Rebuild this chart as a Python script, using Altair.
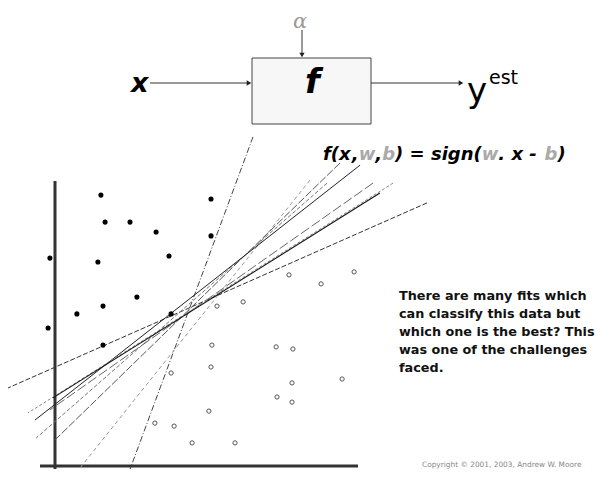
import altair as alt
import pandas as pd

# ---- data (feature space units; origin at the axes corner) ----
filled_u = [1.53, 5.2, 1.67, 2.5, 3.37, 5.2, -0.17, 1.43, 3.8, 2.73, 1.6, 0.73, 3.87, -0.23, 1.6]
filled_v = [9.03, 8.9, 8.13, 8.13, 7.8, 7.67, 6.93, 6.8, 7.0, 5.63, 5.33, 5.07, 5.07, 4.6, 4.03]
open_u = [7.8, 8.87, 9.97, 6.27, 5.4, 5.23, 7.37, 7.93, 5.2, 3.87, 7.9, 9.57, 7.4, 7.9, 5.13, 3.33, 3.97, 4.57, 6.0]
open_v = [6.37, 6.07, 6.47, 5.47, 5.33, 4.03, 3.97, 3.9, 3.3, 3.1, 2.77, 2.9, 2.3, 2.13, 1.83, 1.43, 1.33, 0.77, 0.77]

# candidate separating lines (two endpoints each)
line_names = ["A", "B", "C", "D", "E", "F", "G", "H", "I"]
line_u1 = [6.6, 8.5, 12.4, 9.5, 9.07, 10.17, 10.6, 11.27, 10.83]
line_v1 = [10.97, 9.53, 8.77, 10.1, 9.43, 10.03, 9.43, 9.43, 9.1]
line_u2 = [2.43, 0.67, -1.57, 0.0, -0.63, -0.67, -0.17, -0.9, -0.07]
line_v2 = [-0.3, -0.27, 2.6, 0.87, 0.93, 1.53, 1.87, 1.77, 2.27]

# axes of the feature space
axis_u1 = [0.0, -0.5]
axis_v1 = [-0.2, 0.0]
axis_u2 = [0.0, 10.1]
axis_v2 = [9.5, 0.0]

body_lines = [" There are many fits which", "can classify this data but",
              "which one is the best? This", "was one of the challenges", "faced."]
copyright_text = "Copyright \u00a9 2001, 2003, Andrew W. Moore"
formula_parts = ["f(", "x", ",", "w", ",", "b", ") = sign(", "w", ". x -", "b", ")"]
formula_grey = [False, False, False, True, False, True, False, True, False, True, False]

# ---- styles ----
line_styles = {
    "A": dict(color="#444", strokeDash=[6, 2, 1, 2], strokeWidth=1),
    "B": dict(color="#999", strokeDash=[4, 3], strokeWidth=1),
    "C": dict(color="#333", strokeDash=[5, 2], strokeWidth=1),
    "D": dict(color="#555", strokeDash=[8, 2], strokeWidth=1),
    "E": dict(color="#777", strokeDash=[4, 2], strokeWidth=1),
    "F": dict(color="#222", strokeWidth=1),
    "G": dict(color="#666", strokeDash=[10, 3], strokeWidth=1),
    "H": dict(color="#888", strokeDash=[3, 2], strokeWidth=1),
    "I": dict(color="#111", strokeWidth=1.1),
}

xs = alt.Scale(domain=[-1.5667, 18.3333], nice=False, zero=False)
ys = alt.Scale(domain=[-0.1, 15.2667], nice=False, zero=False)


def px(v):
    return v - 8


one = alt.Data(values=[{}])
layers = []

# axes
ax_df = pd.DataFrame({"u1": axis_u1, "v1": axis_v1, "u2": axis_u2, "v2": axis_v2})
layers.append(
    alt.Chart(ax_df).mark_rule(color="#333", strokeWidth=3).encode(
        x=alt.X("u1:Q", scale=xs, axis=None), y=alt.Y("v1:Q", scale=ys, axis=None),
        x2="u2:Q", y2="v2:Q")
)

# separating lines
for i, name in enumerate(line_names):
    d = pd.DataFrame({"u1": [line_u1[i]], "v1": [line_v1[i]], "u2": [line_u2[i]], "v2": [line_v2[i]]})
    layers.append(
        alt.Chart(d).mark_rule(**line_styles[name]).encode(
            x=alt.X("u1:Q", scale=xs, axis=None), y=alt.Y("v1:Q", scale=ys, axis=None),
            x2="u2:Q", y2="v2:Q")
    )

# points
f_df = pd.DataFrame({"u": filled_u, "v": filled_v})
o_df = pd.DataFrame({"u": open_u, "v": open_v})
layers.append(
    alt.Chart(f_df).mark_point(filled=True, size=26, color="black", opacity=1).encode(
        x=alt.X("u:Q", scale=xs, axis=None), y=alt.Y("v:Q", scale=ys, axis=None))
)
layers.append(
    alt.Chart(o_df).mark_point(filled=False, size=18, color="#555", strokeWidth=1, opacity=1).encode(
        x=alt.X("u:Q", scale=xs, axis=None), y=alt.Y("v:Q", scale=ys, axis=None))
)


def txt(t, x, y, **kw):
    return alt.Chart(one).mark_text(text=t, align="left", baseline="alphabetic", **kw).encode(
        x=alt.value(px(x)), y=alt.value(px(y)))


def rule(x1, y1, x2, y2, **kw):
    return alt.Chart(one).mark_rule(**kw).encode(
        x=alt.value(px(x1)), y=alt.value(px(y1)), x2=alt.value(px(x2)), y2=alt.value(px(y2)))


def head(x, y, shape):
    return alt.Chart(one).mark_point(shape=shape, filled=True, size=28, color="#222", opacity=1).encode(
        x=alt.value(px(x)), y=alt.value(px(y)))


# block diagram
layers.append(
    alt.Chart(one).mark_rect(fill="#f7f7f7", stroke="#444", strokeWidth=1).encode(
        x=alt.value(px(252)), x2=alt.value(px(371)), y=alt.value(px(58)), y2=alt.value(px(124)))
)
layers.append(rule(150, 83, 248, 83, color="#333", strokeWidth=1))
layers.append(head(249, 83, "triangle-right"))
layers.append(rule(371, 83, 459, 83, color="#333", strokeWidth=1))
layers.append(head(461, 83, "triangle-right"))
layers.append(rule(302, 30, 302, 53, color="#333", strokeWidth=1))
layers.append(head(302, 55, "triangle-down"))
layers.append(txt("x", 131, 92, font="DejaVu Sans", fontSize=27, fontWeight="bold", fontStyle="italic", color="black"))
layers.append(txt("f", 305, 93, font="DejaVu Sans", fontSize=34, fontWeight="bold", fontStyle="italic", color="black"))
layers.append(txt("\u03b1", 293, 28, font="DejaVu Serif", fontSize=21, fontStyle="italic", color="#999"))
layers.append(txt("y", 467, 102, font="DejaVu Sans", fontSize=34, color="black"))
layers.append(txt("est", 489, 84, font="DejaVu Sans", fontSize=19, color="black"))

# formula f(x,w,b) = sign(w. x - b), laid out piece by piece
fsize = 18
advance = {"f(": 0.892, "x": 0.712, ",": 0.38, "w": 0.924, "b": 0.716, ") = sign(": 4.81,
           ". x -": 2.22, ")": 0.457}
fx = 323.0
for part, grey in zip(formula_parts, formula_grey):
    layers.append(txt(part, fx, 160, font="DejaVu Sans", fontSize=fsize, fontWeight="bold",
                      fontStyle="italic", color="#aaa" if grey else "black"))
    fx += advance[part] * fsize + (6.3 if part == ". x -" else 0)

# explanatory text
layers.append(
    alt.Chart(one).mark_text(text=body_lines, align="left", baseline="alphabetic", lineHeight=18,
                             font="DejaVu Sans", fontSize=12.8, fontWeight="bold", color="#111").encode(
        x=alt.value(px(399)), y=alt.value(px(300)))
)
layers.append(txt(copyright_text, 422, 467, font="DejaVu Sans", fontSize=7.4, color="#888"))

chart = alt.layer(*layers).properties(
    width=597, height=461, padding=0, autosize=alt.AutoSizeParams(type="none"), background="white"
).configure_view(stroke=None)

chart.save("out.html", embed_options={"renderer": "svg", "actions": False})
